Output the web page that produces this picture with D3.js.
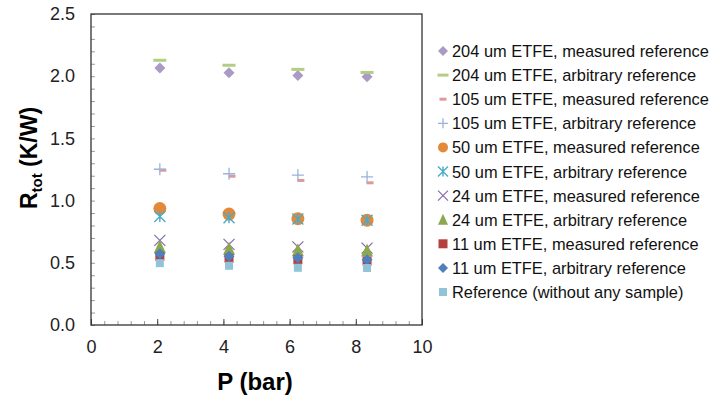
<!DOCTYPE html>
<html>
<head>
  <meta charset="utf-8">
  <title>Rtot vs P</title>
  <style>
  body { margin: 0; background: #fff; font-family: "Liberation Sans", Arial, sans-serif; }
  .tick text { font: 18px "Liberation Sans", Arial, sans-serif; fill: #222; }
  </style>
</head>
<body>
  <div id="viz"></div>
  <script src="https://d3js.org/d3.v7.min.js"></script>
  <script>
    // pressures (bar)
    const pressure = [2.08, 4.17, 6.25, 8.34];
    const pressure105m = [2.17, 4.26, 6.34, 8.43];

    const names = [
      "204 um ETFE, measured reference",
      "204 um ETFE, arbitrary reference",
      "105 um ETFE, measured reference",
      "105 um ETFE, arbitrary reference",
      "50 um ETFE, measured reference",
      "50 um ETFE, arbitrary reference",
      "24 um ETFE, measured reference",
      "24 um ETFE, arbitrary reference",
      "11 um ETFE, measured reference",
      "11 um ETFE, arbitrary reference",
      "Reference (without any sample)"
    ];

    const r204m = [2.065, 2.028, 2.005, 1.995];
    const r204a = [2.128, 2.088, 2.055, 2.030];
    const r105m = [1.244, 1.196, 1.162, 1.143];
    const r105a = [1.252, 1.216, 1.204, 1.190];
    const r50m  = [0.936, 0.892, 0.855, 0.843];
    const r50a  = [0.872, 0.862, 0.852, 0.843];
    const r24m  = [0.680, 0.648, 0.628, 0.618];
    const r24a  = [0.628, 0.612, 0.600, 0.598];
    const r11m  = [0.552, 0.536, 0.524, 0.514];
    const r11a  = [0.573, 0.552, 0.540, 0.524];
    const rRef  = [0.497, 0.476, 0.460, 0.458];

    const xTicks = [0, 2, 4, 6, 8, 10];
    const yTicks = [0, 0.5, 1.0, 1.5, 2.0, 2.5];

    const seriesStyle = [
      {shape: "diamond", color: "#a99bc4", size: 11},
      {shape: "hbar", color: "#b4cd84", w: 13, h: 3},
      {shape: "hbar", color: "#dc9a98", w: 7, h: 3},
      {shape: "plus", color: "#9bb3d9", size: 12},
      {shape: "circle", color: "#e4893a", size: 13},
      {shape: "star", color: "#4babc6", size: 11},
      {shape: "cross", color: "#8a6fb0", size: 11},
      {shape: "triangle", color: "#8ca74c", size: 12},
      {shape: "square", color: "#b5413e", size: 9},
      {shape: "diamond", color: "#4f7fbe", size: 11},
      {shape: "square", color: "#93c3d8", size: 8}
    ];
    const seriesY = [r204m, r204a, r105m, r105a, r50m, r50a, r24m, r24a, r11m, r11a, rRef];
    const seriesX = [pressure, pressure, pressure105m, pressure, pressure, pressure, pressure, pressure, pressure, pressure, pressure];

    const W = 713, H = 399;
    const margin = {left: 91, top: 14, right: 291, bottom: 74};
    const width = W - margin.left - margin.right;
    const height = H - margin.top - margin.bottom;

    const svg = d3.select("#viz").append("svg")
      .attr("width", W).attr("height", H);

    const x = d3.scaleLinear().domain([0, 10]).range([0, width]);
    const y = d3.scaleLinear().domain([0, 2.5]).range([height, 0]);

    const g = svg.append("g").attr("transform", `translate(${margin.left},${margin.top})`);

    // minor ticks (inside)
    g.append("g")
      .call(d3.axisLeft(y).tickValues(d3.range(0, 2.501, 0.1)).tickSize(-4).tickFormat(""))
      .call(s => s.select(".domain").remove())
      .selectAll("line").attr("stroke", "#999");
    g.append("g").attr("transform", `translate(0,${height})`)
      .call(d3.axisBottom(x).tickValues(d3.range(0, 10.01, 0.4)).tickSize(-4).tickFormat(""))
      .call(s => s.select(".domain").remove())
      .selectAll("line").attr("stroke", "#999");

    // major axes
    g.append("g")
      .call(d3.axisLeft(y).tickValues(yTicks).tickFormat(d3.format(".1f")).tickSize(0).tickPadding(16))
      .call(s => s.select(".domain").remove());
    g.append("g").attr("transform", `translate(0,${height})`)
      .call(d3.axisBottom(x).tickValues(xTicks).tickFormat(d3.format("d")).tickSize(-6).tickPadding(15))
      .call(s => s.select(".domain").remove())
      .selectAll("line").attr("stroke", "#444");

    // frame
    g.append("rect").attr("width", width).attr("height", height)
      .attr("fill", "none").attr("stroke", "#333").attr("stroke-width", 1.3);

    function drawMarker(sel, st) {
      const s = st.size || 10, h = s / 2;
      switch (st.shape) {
        case "diamond":
          sel.append("path").attr("d", `M0,${-h}L${h},0L0,${h}L${-h},0Z`).attr("fill", st.color); break;
        case "hbar":
          sel.append("rect").attr("x", -st.w / 2).attr("y", -st.h / 2).attr("width", st.w).attr("height", st.h).attr("fill", st.color); break;
        case "plus":
          sel.append("path").attr("d", `M${-h},0H${h}M0,${-h}V${h}`).attr("stroke", st.color).attr("stroke-width", 1.3); break;
        case "circle":
          sel.append("circle").attr("r", h).attr("fill", st.color); break;
        case "star":
          sel.append("path").attr("d", `M${-h},${-h}L${h},${h}M${-h},${h}L${h},${-h}M0,${-h}V${h}`).attr("stroke", st.color).attr("stroke-width", 1.4); break;
        case "cross":
          sel.append("path").attr("d", `M${-h},${-h}L${h},${h}M${-h},${h}L${h},${-h}`).attr("stroke", st.color).attr("stroke-width", 1.3); break;
        case "triangle":
          sel.append("path").attr("d", `M0,${-h - 1}L${h},${h}L${-h},${h}Z`).attr("fill", st.color); break;
        case "square":
          sel.append("rect").attr("x", -h).attr("y", -h).attr("width", s).attr("height", s).attr("fill", st.color); break;
      }
    }

    // points
    seriesY.forEach((vals, i) => {
      vals.forEach((v, j) => {
        const m = g.append("g").attr("transform", `translate(${x(seriesX[i][j])},${y(v)})`);
        drawMarker(m, seriesStyle[i]);
      });
    });

    // axis titles
    svg.append("text")
      .attr("x", 255).attr("y", 390)
      .attr("text-anchor", "middle")
      .style("font", "bold 24px 'Liberation Sans', Arial, sans-serif")
      .text("P (bar)");

    const yt = svg.append("text")
      .attr("transform", "translate(37,158) rotate(-90)")
      .attr("text-anchor", "middle")
      .style("font", "bold 23px 'Liberation Sans', Arial, sans-serif");
    yt.append("tspan").text("R");
    yt.append("tspan").attr("dy", 5).style("font-size", "15px").text("tot");
    yt.append("tspan").attr("dy", -5).text(" (K/W)");

    // legend
    const legend = svg.append("g").attr("transform", "translate(443,51)");
    names.forEach((n, i) => {
      const row = legend.append("g").attr("transform", `translate(0,${i * 24.1})`);
      const st = Object.assign({}, seriesStyle[i]);
      if (st.size) st.size = Math.min(st.size, 10);
      if (st.shape === "hbar") { st.w = Math.min(st.w, 11); }
      drawMarker(row, st);
      row.append("text").attr("x", 9).attr("y", 6)
        .style("font", "16.4px 'Liberation Sans', Arial, sans-serif").attr("fill", "#111")
        .text(n);
    });
  </script>
</body>
</html>
